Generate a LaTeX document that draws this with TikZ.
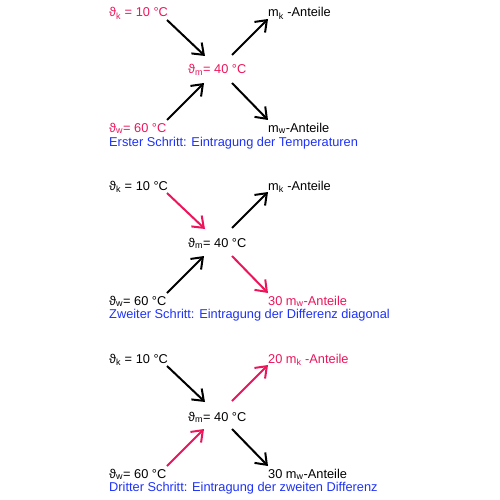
\documentclass[tikz,border=0pt]{standalone}
\usepackage{fontspec}
\setmainfont{Liberation Sans}
\usetikzlibrary{arrows.meta}
\definecolor{pinkc}{RGB}{236,20,90}
\definecolor{bluec}{RGB}{30,50,245}
\newcommand{\thk}{ϑ\textsubscript{k}}
\newcommand{\thm}{ϑ\textsubscript{m}}
\newcommand{\thw}{ϑ\textsubscript{w}}
\begin{document}
\begin{tikzpicture}[x=1pt,y=1pt,
  lbl/.style={anchor=base west,inner sep=0pt,font=\fontsize{12.8}{15}\selectfont},
  arr/.style={line width=2pt,-{Straight Barb[length=10pt,width=15pt,line width=2pt]}},
  bl/.style={black},
  pk/.style={pinkc}]
\useasboundingbox (0,-500) rectangle (500,0);
% Panel 1
\begin{scope}[yshift=0pt]
\node[lbl,pinkc] (k1) at (109,-17) {\thk\ = 10 °C};
\node[lbl] (mk1) at (268,-17) {m\textsubscript{k} -Anteile};
\node[lbl,pinkc] (m1) at (188,-74) {\thm= 40 °C};
\node[lbl,pinkc] (w1) at (109,-132) {\thw= 60 °C};
\node[lbl] (mw1) at (268,-132) {m\textsubscript{w}-Anteile};
\node[lbl,bluec] (c1) at (109,-146) {Erster Schritt: Eintragung der Temperaturen};
\coordinate (a1s) at (167,-20); \coordinate (a1e) at (205,-56);
\coordinate (a2s) at (232,-55); \coordinate (a2e) at (268,-19);
\coordinate (a3s) at (167,-120); \coordinate (a3e) at (204,-83);
\coordinate (a4s) at (232,-83); \coordinate (a4e) at (268,-120);
\draw[arr,bl] (a1s) -- (a1e);
\draw[arr,bl] (a2s) -- (a2e);
\draw[arr,bl] (a3s) -- (a3e);
\draw[arr,bl] (a4s) -- (a4e);
\end{scope}
% Panel 2
\begin{scope}[yshift=-173pt]
\node[lbl] (k2) at (109,-17) {\thk\ = 10 °C};
\node[lbl] (mk2) at (268,-17) {m\textsubscript{k} -Anteile};
\node[lbl] (m2) at (188,-74) {\thm= 40 °C};
\node[lbl] (w2) at (109,-132) {\thw= 60 °C};
\node[lbl,pinkc] (mw2) at (268,-132) {30 m\textsubscript{w}-Anteile};
\node[lbl,bluec] (c2) at (109,-145) {Zweiter Schritt: Eintragung der Differenz diagonal};
\coordinate (b1s) at (167,-20); \coordinate (b1e) at (205,-56);
\coordinate (b2s) at (232,-55); \coordinate (b2e) at (268,-19);
\coordinate (b3s) at (167,-120); \coordinate (b3e) at (204,-83);
\coordinate (b4s) at (232,-83); \coordinate (b4e) at (268,-120);
\draw[arr,pk] (b1s) -- (b1e);
\draw[arr,bl] (b2s) -- (b2e);
\draw[arr,bl] (b3s) -- (b3e);
\draw[arr,pk] (b4s) -- (b4e);
\end{scope}
% Panel 3
\begin{scope}[yshift=-346pt]
\node[lbl] (k3) at (109,-17) {\thk\ = 10 °C};
\node[lbl,pinkc] (mk3) at (268,-17) {20 m\textsubscript{k} -Anteile};
\node[lbl] (m3) at (188,-75) {\thm= 40 °C};
\node[lbl] (w3) at (109,-132) {\thw= 60 °C};
\node[lbl] (mw3) at (268,-132) {30 m\textsubscript{w}-Anteile};
\node[lbl,bluec] (c3) at (109,-145) {Dritter Schritt: Eintragung der zweiten Differenz};
\coordinate (d1s) at (167,-20); \coordinate (d1e) at (205,-56);
\coordinate (d2s) at (232,-55); \coordinate (d2e) at (268,-19);
\coordinate (d3s) at (167,-120); \coordinate (d3e) at (204,-83);
\coordinate (d4s) at (232,-83); \coordinate (d4e) at (268,-120);
\draw[arr,bl] (d1s) -- (d1e);
\draw[arr,pk] (d2s) -- (d2e);
\draw[arr,pk] (d3s) -- (d3e);
\draw[arr,bl] (d4s) -- (d4e);
\end{scope}
\end{tikzpicture}
\end{document}
